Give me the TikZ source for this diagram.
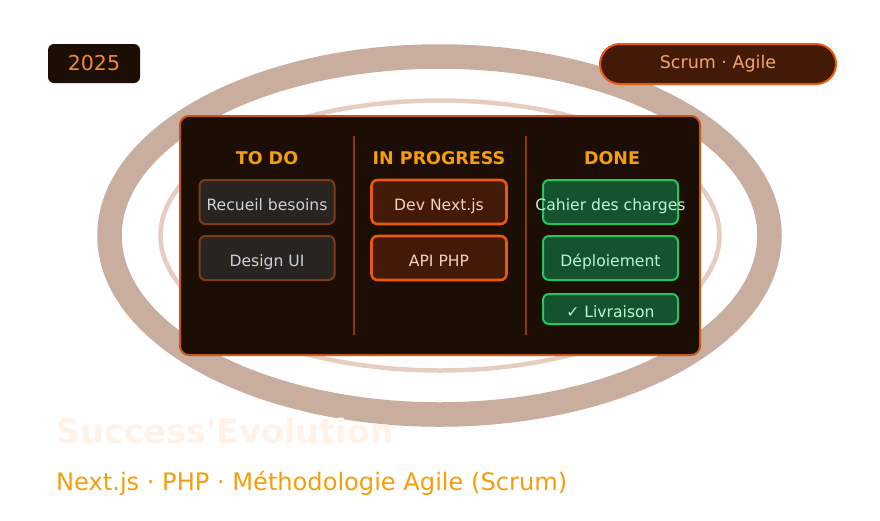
\documentclass[tikz,border=0pt]{standalone}
\usepackage{fontspec}
\setmainfont{DejaVu Sans}
\usetikzlibrary{positioning}
\definecolor{paper}{HTML}{FFFFFF}
\definecolor{ring}{HTML}{C9AD9F}
\definecolor{ringlight}{HTML}{E6CDBF}
\definecolor{board}{HTML}{1C0E04}
\definecolor{boardline}{HTML}{C2581A}
\definecolor{sepline}{HTML}{8B3A14}
\definecolor{amber}{HTML}{F59E0B}
\definecolor{todofill}{HTML}{2A2421}
\definecolor{todoline}{HTML}{7C3A18}
\definecolor{todotext}{HTML}{C9D1DB}
\definecolor{progfill}{HTML}{431907}
\definecolor{progline}{HTML}{EA580C}
\definecolor{progtext}{HTML}{F3D3BE}
\definecolor{donefill}{HTML}{15532F}
\definecolor{doneline}{HTML}{22C55E}
\definecolor{donetext}{HTML}{BBF7D0}
\definecolor{yeartext}{HTML}{F08A30}
\definecolor{pilltext}{HTML}{F2A66A}
\definecolor{ghost}{HTML}{FFF2E8}
\newcommand{\CardW}{135}
\newcommand{\CardH}{44}
\newcommand{\RowA}{202}
\newcommand{\RowB}{258}
\newcommand{\HeadY}{158}

\begin{document}
\begin{tikzpicture}[
    x=1pt, y=-1pt,
    colhead/.style={font=\fontsize{17.5}{20}\selectfont\bfseries, text=amber},
    card/.style={rounded corners=6pt, minimum width=\CardW pt, minimum height=\CardH pt, inner sep=0pt, text height=16pt, text depth=0pt, font=\fontsize{15.6}{18}\selectfont},
    todocard/.style={card, draw=todoline, line width=2pt, fill=todofill, text=todotext},
    progcard/.style={card, draw=progline, line width=2.6pt, fill=progfill, text=progtext},
    donecard/.style={card, draw=doneline, line width=2pt, fill=donefill, text=donetext},
    colsep/.style={draw=sepline, line width=2pt},
  ]
\useasboundingbox[fill=paper] (0,0) rectangle (880,520);

% --- Rings behind the board --------------------------------------------------------
\draw[ring, line width=24.5pt] (439.5,235.5) ellipse [x radius=330, y radius=179];
\draw[ringlight, line width=4.5pt] (440,235.5) ellipse [x radius=279.5, y radius=135];

% --- The board ---------------------------------------------------------------------
\node[draw=boardline, line width=2pt, fill=board, rounded corners=9pt, minimum width=520pt, minimum height=239pt, inner sep=0pt] (board) at (440,235.5) {};
\coordinate (sepA) at (354,136);
\coordinate (sepB) at (526,136);
\draw[colsep] (sepA) -- ++(0,199);
\draw[colsep] (sepB) -- ++(0,199);

% --- Columns and their cards ----------------------------------------------------------
\foreach \c/\x/\head in {todo/267/{TO DO}, prog/439/{IN PROGRESS}, done/612/{DONE}} {
  \node[colhead] (h\c) at (\x, \HeadY) {\head};
}
\node[todocard] (todo1) at (267, \RowA) {Recueil besoins};
\node[todocard] (todo2) at (267, \RowB) {Design UI};
\node[progcard] (prog1) at (439, \RowA) {Dev Next.js};
\node[progcard] (prog2) at (439, \RowB) {API PHP};
\node[donecard] (done1) at (610.5, \RowA) {\makebox[0pt][c]{Cahier des charges}};
\node[donecard] (done2) at (610.5, \RowB) {Déploiement};
\node[donecard, minimum height=30pt] (done3) at (610.5, 309) {✓ Livraison};

% --- Badges -------------------------------------------------------------------------
\node[fill=board, rounded corners=6pt, minimum width=92pt, minimum height=39pt, inner sep=0pt, text=yeartext, font=\fontsize{20.5}{24}\selectfont] (year) at (94,63.5) {2025};
\node[draw=progline, line width=2pt, fill=progfill, rounded corners=20pt, minimum width=236pt, minimum height=40pt, inner sep=0pt, text=pilltext, font=\fontsize{17.5}{20}\selectfont] (method) at (718,64) {Scrum · Agile};

% --- Title and subtitle ---------------------------------------------------------------
\node[anchor=base west, inner sep=0pt, text=ghost, font=\fontsize{33.5}{38}\selectfont\bfseries] (title) at (56,443) {Success\textquotesingle Evolution};
\node[anchor=base west, inner sep=0pt, text=amber, font=\fontsize{24.1}{28}\selectfont] (stack) at (56,490) {Next.js · PHP · Méthodologie Agile (Scrum)};

\end{tikzpicture}
\end{document}
